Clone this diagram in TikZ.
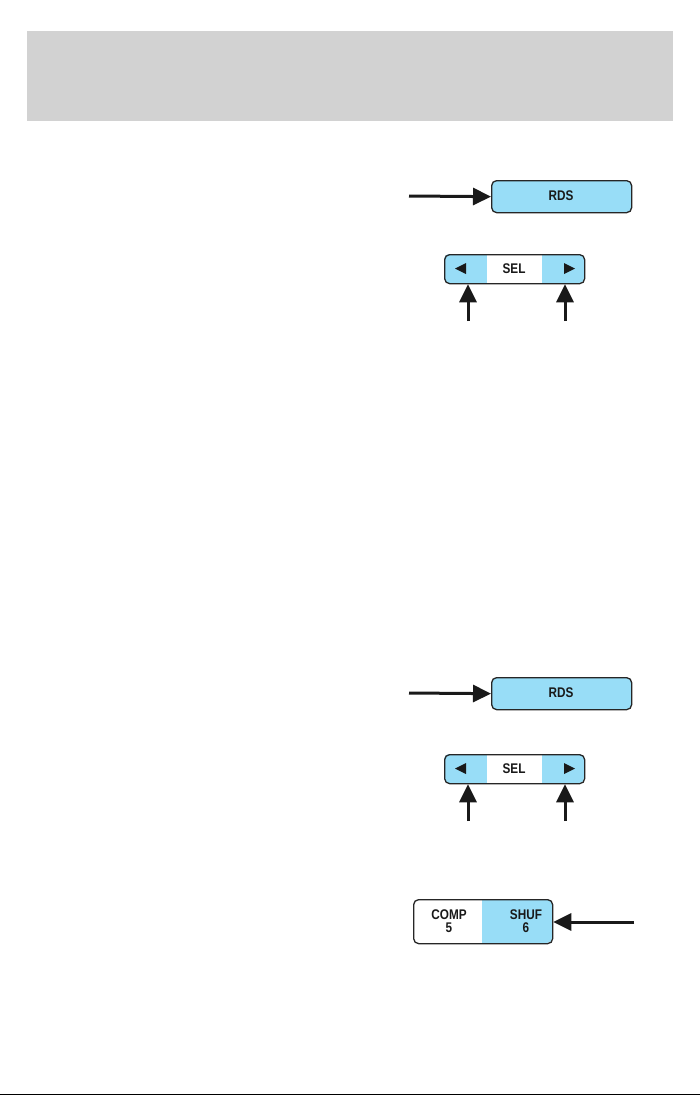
\documentclass[tikz,border=0pt]{standalone}
\usepackage{fontspec}
\setmainfont{Liberation Sans}[FakeStretch=0.84]
\usetikzlibrary{arrows.meta}
\definecolor{sky}{RGB}{152,221,247}
\definecolor{band}{RGB}{210,210,210}
\tikzset{
  btn/.style={draw=black!85, line width=1.3pt, rounded corners=5pt, inner sep=0pt, anchor=north west},
  arr/.style={line width=3pt, -{Triangle[length=18pt,width=17pt]}, black!90},
  lbl/.style={font=\fontsize{14}{14.5}\selectfont\bfseries, text=black!90},
  tri/.style={fill=black!90}
}
\begin{document}
\begin{tikzpicture}[x=1pt,y=-1pt]
\useasboundingbox (0,0) rectangle (699,1095);
\fill[white] (-3,-3) rectangle (702,1098);
% header band
\fill[band] (27,31) rectangle (673,121);
% bottom rule
\fill[black] (-3,1093.5) rectangle (702,1098);

% ---------- group 1 ----------
\node[btn, fill=sky, minimum width=140pt, minimum height=32pt] (rds1) at (491,180) {};
\node[lbl] (rdst1) at (561,196) {RDS};
\coordinate (ra1) at (409,196);
\draw[arr] (ra1) -- (rds1.west);

\fill[sky, rounded corners=5pt] (444,254) rectangle (584,283);
\fill[white] (487,254) rectangle (542,283);
\node[btn, minimum width=140pt, minimum height=29pt] (sel1) at (444,254) {};
\node[lbl] (selt1) at (514,268.5) {SEL};
\fill[tri] (455,268.5) -- (466,263) -- (466,274) -- cycle;
\fill[tri] (575,268.5) -- (564,263) -- (564,274) -- cycle;
\coordinate (ua1) at (468,321);
\coordinate (ub1) at (565,321);
\draw[arr] (ua1) -- (ua1 |- sel1.south);
\draw[arr] (ub1) -- (ub1 |- sel1.south);

% ---------- group 2 ----------
\node[btn, fill=sky, minimum width=140pt, minimum height=32pt] (rds2) at (491,677) {};
\node[lbl] (rdst2) at (561,693) {RDS};
\coordinate (ra2) at (409,693);
\draw[arr] (ra2) -- (rds2.west);

\fill[sky, rounded corners=5pt] (444,754) rectangle (584,783);
\fill[white] (487,754) rectangle (542,783);
\node[btn, minimum width=140pt, minimum height=29pt] (sel2) at (444,754) {};
\node[lbl] (selt2) at (514,768.5) {SEL};
\fill[tri] (455,768.5) -- (466,763) -- (466,774) -- cycle;
\fill[tri] (575,768.5) -- (564,763) -- (564,774) -- cycle;
\coordinate (ua2) at (468,821);
\coordinate (ub2) at (565,821);
\draw[arr] (ua2) -- (ua2 |- sel2.south);
\draw[arr] (ub2) -- (ub2 |- sel2.south);

% ---------- COMP / SHUF ----------
\fill[white, rounded corners=5pt] (413,899) rectangle (552,943);
\fill[sky, rounded corners=5pt] (482,899) rectangle (552,943);
\fill[sky] (482,899) rectangle (500,943);
\node[btn, minimum width=139pt, minimum height=44pt] (cs) at (413,899) {};
\node[lbl, align=center] (comp) at (449,921) {COMP\\[-1pt]5};
\node[lbl, align=center] (shuf) at (526,921) {SHUF\\[-1pt]6};
\coordinate (sa) at (634,922);
\draw[arr] (sa) -- (cs.east |- sa);
\end{tikzpicture}
\end{document}
